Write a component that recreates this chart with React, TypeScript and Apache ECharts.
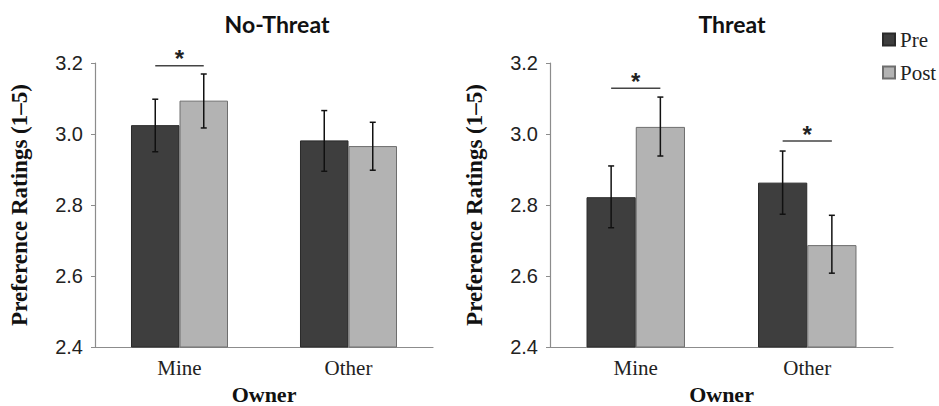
import React, { useEffect, useRef } from "react";
import * as echarts from "echarts";

// ---- data ----
const categories = ["Mine", "Other"];
const yTicks = [2.4, 2.6, 2.8, 3.0, 3.2];
const seriesNames = ["Pre", "Post"];
const panelTitles = ["No-Threat", "Threat"];

// No-Threat panel
const noThreatPre = [3.025, 2.982];
const noThreatPost = [3.094, 2.966];
const noThreatPreLow = [2.95, 2.895];
const noThreatPreHigh = [3.098, 3.066];
const noThreatPostLow = [3.017, 2.898];
const noThreatPostHigh = [3.169, 3.033];
const noThreatSig = [[0, 3.192]];

// Threat panel
const threatPre = [2.822, 2.863];
const threatPost = [3.02, 2.687];
const threatPreLow = [2.736, 2.774];
const threatPreHigh = [2.91, 2.952];
const threatPostLow = [2.938, 2.608];
const threatPostHigh = [3.104, 2.771];
const threatSig = [[0, 3.129], [1, 2.98]];

const BAR_FRAC = 0.287;
const PRE_COLOR = "#3e3e3e";
const POST_COLOR = "#b3b3b3";
const SERIF = "'Liberation Serif', serif";
const SANS = "'Liberation Sans', Arial, sans-serif";

function errSeries(low: number[], high: number[], sign: number, gi: number) {
  return {
    type: "custom",
    xAxisIndex: gi,
    yAxisIndex: gi,
    z: 5,
    silent: true,
    encode: { x: 0, y: [1, 2] },
    data: low.map((l, i) => [i, l, high[i]]),
    renderItem: (params: any, api: any) => {
      const x = api.value(0);
      const lo = api.coord([x, api.value(1)]);
      const hi = api.coord([x, api.value(2)]);
      const band = api.size([1, 0])[0];
      const cx = lo[0] + (sign * band * BAR_FRAC) / 2;
      const cap = 3;
      const st = { stroke: "#111", lineWidth: 1.5 };
      return {
        type: "group",
        children: [
          { type: "line", shape: { x1: cx, y1: lo[1], x2: cx, y2: hi[1] }, style: st },
          { type: "line", shape: { x1: cx - cap, y1: lo[1], x2: cx + cap, y2: lo[1] }, style: st },
          { type: "line", shape: { x1: cx - cap, y1: hi[1], x2: cx + cap, y2: hi[1] }, style: st },
        ],
      };
    },
  };
}

function sigSeries(sig: number[][], gi: number) {
  return {
    type: "custom",
    xAxisIndex: gi,
    yAxisIndex: gi,
    z: 5,
    silent: true,
    encode: { x: 0, y: 1 },
    data: sig,
    renderItem: (params: any, api: any) => {
      const c = api.coord([api.value(0), api.value(1)]);
      const band = api.size([1, 0])[0];
      const off = (band * BAR_FRAC) / 2;
      return {
        type: "group",
        children: [
          {
            type: "line",
            shape: { x1: c[0] - off, y1: c[1], x2: c[0] + off, y2: c[1] },
            style: { stroke: "#444", lineWidth: 1.5 },
          },
          {
            type: "text",
            style: {
              text: "*",
              x: c[0],
              y: c[1] - 7,
              align: "center",
              verticalAlign: "middle",
              fontSize: 24,
              fontWeight: "bold",
              fontFamily: SANS,
              fill: "#222",
            },
          },
        ],
      };
    },
  };
}

function barSeries(name: string, data: number[], gi: number, color: string, border: string) {
  return {
    type: "bar",
    name,
    xAxisIndex: gi,
    yAxisIndex: gi,
    data,
    barWidth: (BAR_FRAC * 100).toFixed(1) + "%",
    barGap: "0%",
    itemStyle: { color, borderColor: border, borderWidth: 1 },
  };
}

function xAxisOpt(gi: number) {
  return {
    type: "category",
    gridIndex: gi,
    data: categories,
    axisLine: { show: true, lineStyle: { color: "#8c8c8c", width: 1.2 } },
    axisTick: { show: false },
    axisLabel: { fontFamily: SERIF, fontSize: 21, color: "#222", margin: 10 },
    name: "Owner",
    nameLocation: "middle",
    nameGap: 36,
    nameTextStyle: { fontFamily: SERIF, fontWeight: "bold", fontSize: 22, color: "#111" },
  };
}

function yAxisOpt(gi: number) {
  return {
    type: "value",
    gridIndex: gi,
    min: yTicks[0],
    max: yTicks[yTicks.length - 1],
    interval: 0.2,
    axisLine: { show: true, lineStyle: { color: "#8c8c8c", width: 1.2 } },
    axisTick: { show: true, length: 4, lineStyle: { color: "#8c8c8c" } },
    splitLine: { show: false },
    axisLabel: {
      formatter: (v: number) => v.toFixed(1),
      fontFamily: SANS,
      fontSize: 20,
      color: "#222",
      margin: 12,
    },
    name: "Preference Ratings (1–5)",
    nameLocation: "middle",
    nameGap: 64,
    nameTextStyle: { fontFamily: SERIF, fontWeight: "bold", fontSize: 23, color: "#111" },
  };
}

export default function App() {
  const ref = useRef<HTMLDivElement>(null);
  useEffect(() => {
    const chart = echarts.init(ref.current!, null, { renderer: "svg" });
    const titleStyle = {
      fontFamily: "Lato, 'Open Sans', sans-serif",
      fontWeight: "bold",
      fontSize: 23,
      color: "#111",
    };
    chart.setOption({
      animation: false,
      backgroundColor: "#ffffff",
      title: [
        { text: panelTitles[0], left: 272, top: 7, textAlign: "center", textStyle: titleStyle },
        { text: panelTitles[1], left: 727, top: 7, textAlign: "center", textStyle: titleStyle },
      ],
      legend: {
        data: seriesNames,
        orient: "vertical",
        left: 877,
        top: 24,
        itemWidth: 12,
        itemHeight: 12,
        itemGap: 12,
        icon: "rect",
        textStyle: { fontFamily: SERIF, fontSize: 21, color: "#222" },
      },
      grid: [
        { left: 95, right: 939 - 433, top: 63, bottom: 406 - 347, outerBoundsMode: "none" },
        { left: 550, right: 939 - 893, top: 63, bottom: 406 - 347, outerBoundsMode: "none" },
      ],
      xAxis: [xAxisOpt(0), xAxisOpt(1)],
      yAxis: [yAxisOpt(0), yAxisOpt(1)],
      series: [
        barSeries(seriesNames[0], noThreatPre, 0, PRE_COLOR, "#2a2a2a"),
        barSeries(seriesNames[1], noThreatPost, 0, POST_COLOR, "#6e6e6e"),
        barSeries(seriesNames[0], threatPre, 1, PRE_COLOR, "#2a2a2a"),
        barSeries(seriesNames[1], threatPost, 1, POST_COLOR, "#6e6e6e"),
        errSeries(noThreatPreLow, noThreatPreHigh, -1, 0),
        errSeries(noThreatPostLow, noThreatPostHigh, 1, 0),
        errSeries(threatPreLow, threatPreHigh, -1, 1),
        errSeries(threatPostLow, threatPostHigh, 1, 1),
        sigSeries(noThreatSig, 0),
        sigSeries(threatSig, 1),
      ],
    });
    return () => chart.dispose();
  }, []);
  return (
    <div
      ref={ref}
      style={{ position: "fixed", left: 0, top: 0, width: 939, height: 406 }}
    />
  );
}
